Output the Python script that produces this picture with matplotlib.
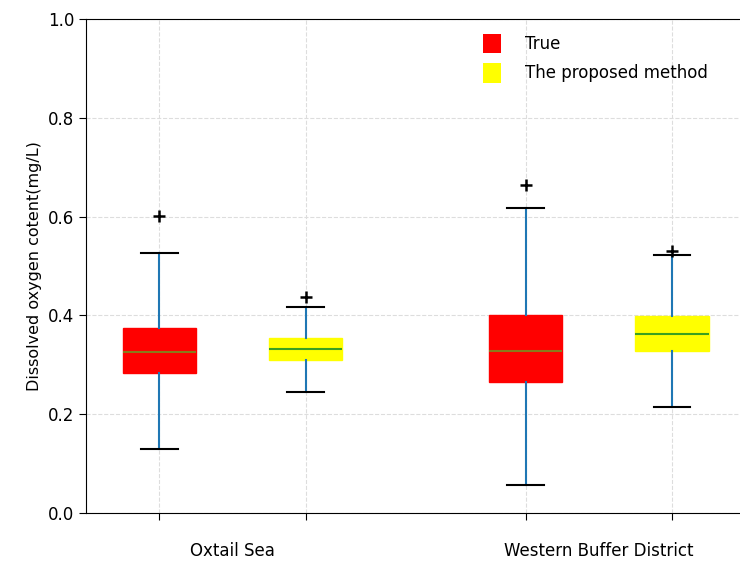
import matplotlib
matplotlib.use("Agg")
import matplotlib.pyplot as plt
from matplotlib.patches import Patch

# box statistics (mg/L)
groups = ["Oxtail Sea", "Western Buffer District"]
series = ["True", "The proposed method"]
q1 = [0.283, 0.310, 0.265, 0.327]
med = [0.326, 0.332, 0.327, 0.362]
q3 = [0.374, 0.355, 0.401, 0.399]
whislo = [0.130, 0.244, 0.057, 0.214]
whishi = [0.526, 0.417, 0.617, 0.522]
fliers = [[0.601], [0.437], [0.663], [0.531]]

positions = [1, 2, 3.5, 4.5]
group_centers = [1.5, 4.0]
box_colors = ["red", "yellow", "red", "yellow"]
median_colors = ["#8a7a1a", "#3aa020", "#8a7a1a", "#3aa020"]

stats = []
for i in range(len(q1)):
    stats.append(dict(q1=q1[i], med=med[i], q3=q3[i], whislo=whislo[i],
                      whishi=whishi[i], fliers=fliers[i]))

fig = plt.figure(figsize=(7.4, 5.63), dpi=100)
# right edge of the axes falls just outside the picture, as in the original
ax = fig.add_axes([86 / 740, 1 - 513 / 563, 670 / 740, 494 / 563])

bp = ax.bxp(stats, positions=positions, widths=0.5, patch_artist=True,
            whiskerprops=dict(color="#1f77b4", linewidth=1.5),
            capprops=dict(color="black", linewidth=1.5),
            flierprops=dict(marker="+", markeredgecolor="black", markersize=8, markeredgewidth=1.8),
            medianprops=dict(linewidth=1.5))
for box, bc in zip(bp["boxes"], box_colors):
    box.set_facecolor(bc)
    box.set_edgecolor(bc)
for m, mc in zip(bp["medians"], median_colors):
    m.set_color(mc)

ax.set_xlim(0.5, 0.5 + 670 / 146.5)
ax.set_ylim(0, 1.0)
ax.spines["right"].set_visible(False)
ax.set_xticks(positions)
ax.set_xticklabels([""] * len(positions))
ax.set_xticks(group_centers, minor=True)
ax.set_xticklabels(groups, minor=True, fontsize=12)
ax.tick_params(axis="x", which="minor", length=0, pad=21)
ax.tick_params(axis="both", which="major", labelsize=12, length=5)
ax.grid(True, which="major", linestyle="--", color="#dddddd", linewidth=0.8)
ax.set_axisbelow(True)
ax.set_ylabel("Dissolved oxygen cotent(mg/L)", fontsize=11.5)

handles = [Patch(facecolor=c) for c in ["red", "yellow"]]
ax.legend(handles, series, loc="upper left", bbox_to_anchor=(0.57, 1.0), frameon=False,
          fontsize=12, handlelength=1.1, handleheight=1.4, labelspacing=0.6, handletextpad=1.4)

fig.savefig("out.png", dpi=100)
